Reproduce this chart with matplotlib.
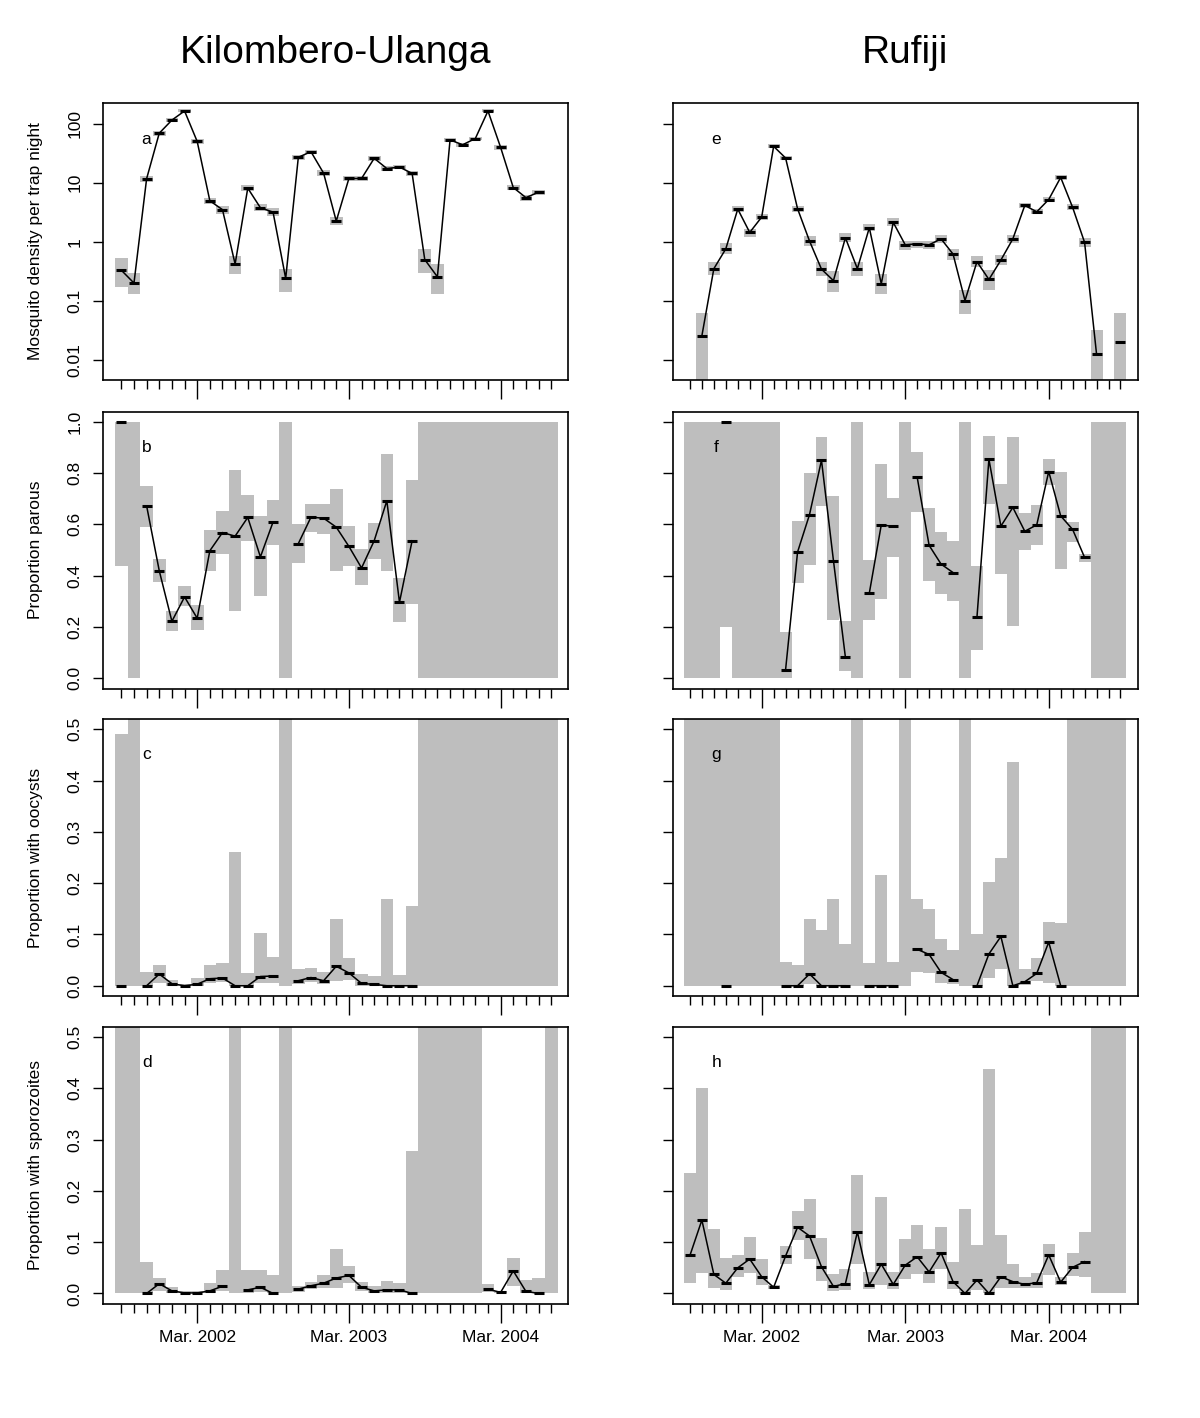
import numpy as np
import matplotlib
matplotlib.use("Agg")
import matplotlib.pyplot as plt
from matplotlib.ticker import FixedLocator, FixedFormatter, NullFormatter

plt.rcParams['font.family'] = ['Liberation Sans', 'DejaVu Sans']

nan = np.nan
GREY = '#bebebe'

# months counted from Sep 2001
ku_months = np.arange(35)   # Sep 2001 - Jul 2004
ru_months = np.arange(37)   # Sep 2001 - Sep 2004
mar_months = [6, 18, 30]
mar_labels = ['Mar. 2002', 'Mar. 2003', 'Mar. 2004']

# ---- Kilombero-Ulanga ----
# a: mosquito density per trap night
ku_dens = [0.33, 0.20, 11.7, 69, 115, 164, 50, 4.95, 3.5, 0.42, 8.1, 3.77, 3.18, 0.24, 27, 33.5, 14.5,
           2.24, 11.8, 11.8, 25.9, 17.4, 18.4, 14.4, 0.50, 0.255, 53, 44, 56, 164, 39.7, 8.3, 5.6, 6.9, nan]
ku_dens_lo = [0.17, 0.13, 10.2, 63, 107, 155, 45, 4.3, 3.0, 0.28, 7.2, 3.3, 2.7, 0.14, 24.5, 31, 12.8,
              1.9, 10.8, 10.8, 23.5, 15.8, 17, 13.2, 0.30, 0.13, 49.5, 41, 52, 155, 36.5, 7.4, 5.0, 6.2, nan]
ku_dens_hi = [0.53, 0.30, 13.2, 75, 124, 174, 55, 5.6, 4.0, 0.58, 9.0, 4.3, 3.7, 0.35, 29.5, 36, 16.3,
              2.6, 12.8, 12.8, 28.5, 19, 19.8, 15.6, 0.76, 0.42, 57, 47, 60, 174, 43, 9.3, 6.2, 7.6, nan]

# b: proportion parous
ku_par = [1.0, nan, 0.672, 0.419, 0.222, 0.317, 0.234, 0.497, 0.568, 0.554, 0.627, 0.473, 0.609, nan,
          0.525, 0.628, 0.624, 0.589, 0.514, 0.430, 0.536, 0.692, 0.296, 0.536] + [nan] * 11
ku_par_lo = [0.437, 0.0, 0.590, 0.376, 0.185, 0.281, 0.190, 0.417, 0.484, 0.264, 0.536, 0.322, 0.520, 0.0,
             0.451, 0.572, 0.564, 0.420, 0.437, 0.364, 0.464, 0.420, 0.220, 0.289] + [0.0] * 11
ku_par_hi = [1.0, 1.0, 0.748, 0.464, 0.261, 0.359, 0.287, 0.577, 0.653, 0.811, 0.715, 0.631, 0.694, 1.0,
             0.601, 0.681, 0.681, 0.737, 0.593, 0.503, 0.607, 0.876, 0.391, 0.771] + [1.0] * 11

# c: proportion with oocysts
ku_ooc = [0.0, nan, 0.0, 0.0228, 0.004, 0.0, 0.003, 0.0137, 0.015, 0.0, 0.0, 0.018, 0.019, nan,
          0.0098, 0.016, 0.0098, 0.038, 0.025, 0.0045, 0.0026, 0.0, 0.0, 0.0] + [nan] * 11
ku_ooc_lo = [0.0, 0.0, 0.0, 0.0045, 0.0, 0.0, 0.0, 0.006, 0.008, 0.0, 0.0, 0.0045, 0.006, 0.0,
             0.003, 0.007, 0.004, 0.009, 0.012, 0.0, 0.0, 0.0, 0.0, 0.0] + [0.0] * 11
ku_ooc_hi = [0.49, 1.0, 0.026, 0.040, 0.012, 0.004, 0.016, 0.040, 0.044, 0.26, 0.024, 0.103, 0.057, 1.0,
             0.033, 0.034, 0.027, 0.131, 0.055, 0.023, 0.019, 0.169, 0.020, 0.155] + [1.0] * 11

# d: proportion with sporozoites
ku_spz = [nan, nan, 0.0, 0.019, 0.005, 0.001, 0.001, 0.005, 0.014, nan, 0.007, 0.012, 0.0, nan,
          0.0084, 0.015, 0.020, 0.030, 0.035, 0.012, 0.005, 0.007, 0.007, 0.0, nan, nan, nan, nan, nan,
          0.0084, 0.002, 0.044, 0.004, 0.0, nan]
ku_spz_lo = [0.0, 0.0, 0.0, 0.004, 0.0, 0.0, 0.0, 0.0, 0.004, 0.0, 0.001, 0.002, 0.0, 0.0,
             0.003, 0.008, 0.010, 0.0097, 0.020, 0.004, 0.0, 0.001, 0.001, 0.0, 0.0, 0.0, 0.0, 0.0, 0.0,
             0.002, 0.0, 0.0136, 0.0, 0.0, 0.0]
ku_spz_hi = [1.0, 1.0, 0.061, 0.031, 0.013, 0.004, 0.005, 0.020, 0.046, 1.0, 0.046, 0.045, 0.035, 1.0,
             0.0136, 0.023, 0.036, 0.086, 0.053, 0.023, 0.015, 0.025, 0.020, 0.278, 1.0, 1.0, 1.0, 1.0, 1.0,
             0.018, 0.005, 0.069, 0.026, 0.030, 1.0]

# ---- Rufiji ----
# e: mosquito density per trap night
ru_dens = [nan, 0.0256, 0.35, 0.76, 3.58, 1.44, 2.62, 41.3, 26.2, 3.63, 1.03, 0.344, 0.22, 1.17, 0.35,
           1.73, 0.194, 2.13, 0.89, 0.925, 0.89, 1.12, 0.62, 0.101, 0.46, 0.23, 0.49, 1.12, 4.13, 3.22,
           5.2, 12.3, 3.82, 0.975, 0.0125, nan, 0.0205]
ru_dens_lo = [nan, 0.001, 0.27, 0.62, 3.2, 1.2, 2.35, 38, 24, 3.25, 0.85, 0.26, 0.14, 0.98, 0.26,
              1.5, 0.13, 1.85, 0.74, 0.8, 0.76, 0.96, 0.5, 0.06, 0.37, 0.15, 0.40, 0.96, 3.7, 2.9,
              4.7, 11.3, 3.4, 0.83, 0.001, nan, 0.001]
ru_dens_hi = [nan, 0.062, 0.45, 0.95, 4.0, 1.65, 2.95, 45, 28.5, 4.1, 1.24, 0.45, 0.32, 1.4, 0.45,
              2.0, 0.28, 2.5, 1.05, 1.05, 1.02, 1.3, 0.76, 0.15, 0.58, 0.33, 0.60, 1.3, 4.6, 3.6,
              5.8, 13.4, 4.3, 1.15, 0.032, nan, 0.062]

# f: proportion parous
ru_par = [nan, nan, nan, 1.0, nan, nan, nan, nan, 0.034, 0.492, 0.638, 0.85, 0.459, 0.082, nan,
          0.332, 0.598, 0.592, nan, 0.784, 0.518, 0.445, 0.412, nan, 0.238, 0.854, 0.593, 0.666,
          0.573, 0.598, 0.806, 0.633, 0.580, 0.471, nan, nan, nan]
ru_par_lo = [0.0, 0.0, 0.0, 0.2, 0.0, 0.0, 0.0, 0.0, 0.0, 0.372, 0.442, 0.672, 0.229, 0.027, 0.0,
             0.226, 0.309, 0.473, 0.0, 0.648, 0.381, 0.329, 0.303, 0.0, 0.112, 0.681, 0.407, 0.205,
             0.499, 0.519, 0.754, 0.427, 0.531, 0.453, 0.0, 0.0, 0.0]
ru_par_hi = [1.0, 1.0, 1.0, 1.0, 1.0, 1.0, 1.0, 1.0, 0.181, 0.612, 0.80, 0.941, 0.71, 0.222, 1.0,
             0.460, 0.834, 0.704, 1.0, 0.883, 0.662, 0.570, 0.534, 1.0, 0.437, 0.944, 0.757, 0.939,
             0.645, 0.674, 0.853, 0.805, 0.611, 0.486, 1.0, 1.0, 1.0]

# g: proportion with oocysts
ru_ooc = [nan, nan, nan, 0.0, nan, nan, nan, nan, 0.0, 0.0, 0.023, 0.0, 0.0, 0.0, nan,
          0.0, 0.0, 0.0, nan, 0.071, 0.061, 0.026, 0.012, nan, 0.0, 0.062, 0.096, 0.0,
          0.0078, 0.024, 0.085, 0.0, nan, nan, nan, nan, nan]
ru_ooc_lo = [0.0] * 8 + [0.0, 0.0, 0.003, 0.0, 0.0, 0.0, 0.0,
                         0.0, 0.0, 0.0, 0.0, 0.026, 0.024, 0.006, 0.0026, 0.0, 0.0, 0.016, 0.032, 0.0,
                         0.001, 0.010, 0.005, 0.0, 0.0, 0.0, 0.0, 0.0, 0.0]
ru_ooc_hi = [1.0] * 8 + [0.046, 0.040, 0.130, 0.109, 0.169, 0.081, 1.0,
                         0.045, 0.216, 0.046, 1.0, 0.170, 0.149, 0.092, 0.070, 1.0, 0.100, 0.202, 0.250, 0.436,
                         0.033, 0.054, 0.124, 0.122, 1.0, 1.0, 1.0, 1.0, 1.0]

# h: proportion with sporozoites
ru_spz = [0.074, 0.143, 0.037, 0.020, 0.050, 0.067, 0.0325, 0.012, 0.073, 0.129, 0.112, 0.052, 0.0137,
          0.019, 0.120, 0.017, 0.057, 0.0176, 0.055, 0.0715, 0.042, 0.079, 0.023, 0.0, 0.026, 0.0,
          0.0325, 0.023, 0.0176, 0.021, 0.075, 0.022, 0.051, 0.062, nan, nan, nan]
ru_spz_lo = [0.021, 0.039, 0.011, 0.006, 0.032, 0.040, 0.016, 0.009, 0.058, 0.105, 0.068, 0.024, 0.0046,
             0.0065, 0.058, 0.008, 0.016, 0.008, 0.029, 0.037, 0.0195, 0.048, 0.009, 0.0, 0.0065, 0.0,
             0.010, 0.010, 0.010, 0.011, 0.036, 0.016, 0.034, 0.0325, 0.0, 0.0, 0.0]
ru_spz_hi = [0.235, 0.401, 0.125, 0.070, 0.075, 0.111, 0.068, 0.016, 0.092, 0.161, 0.185, 0.109, 0.038,
             0.048, 0.230, 0.042, 0.188, 0.041, 0.106, 0.133, 0.086, 0.129, 0.061, 0.164, 0.094, 0.437,
             0.114, 0.058, 0.032, 0.040, 0.097, 0.032, 0.079, 0.120, 1.0, 1.0, 1.0]

row_labels = ['Mosquito density per trap night', 'Proportion parous',
              'Proportion with oocysts', 'Proportion with sporozoites']
letters_ku = ['a', 'b', 'c', 'd']
letters_ru = ['e', 'f', 'g', 'h']


def draw_panel(ax, months, est, lo, hi, kind, letter, xlim, show_y, show_x, letter_x):
    est = np.asarray(est, float)
    lo = np.asarray(lo, float)
    hi = np.asarray(hi, float)
    ok = np.isfinite(lo) & np.isfinite(hi)
    ax.bar(months[ok], hi[ok] - lo[ok], bottom=lo[ok], width=1.0, color=GREY,
           linewidth=0, zorder=1)
    ax.plot(months, est, '-', color='k', lw=1.1, zorder=2)
    ax.plot(months, est, linestyle='none', marker='_', ms=6.5, mew=2.2, color='k', zorder=3)

    if kind == 'log':
        ax.set_yscale('log')
        ax.set_ylim(10 ** -2.34, 10 ** 2.35)
        yt = [0.01, 0.1, 1, 10, 100]
        ytl = ['0.01', '0.1', '1', '10', '100']
        ly = 54
    elif kind == 'par':
        ax.set_ylim(-0.04, 1.04)
        yt = [0.0, 0.2, 0.4, 0.6, 0.8, 1.0]
        ytl = ['0.0', '0.2', '0.4', '0.6', '0.8', '1.0']
        ly = 0.9
    else:
        ax.set_ylim(-0.02, 0.52)
        yt = [0.0, 0.1, 0.2, 0.3, 0.4, 0.5]
        ytl = ['0.0', '0.1', '0.2', '0.3', '0.4', '0.5']
        ly = 0.45
    ax.yaxis.set_major_locator(FixedLocator(yt))
    ax.yaxis.set_minor_locator(FixedLocator([]))
    if show_y:
        ax.yaxis.set_major_formatter(FixedFormatter(ytl))
    else:
        ax.yaxis.set_major_formatter(NullFormatter())
    ax.yaxis.set_minor_formatter(NullFormatter())

    ax.set_xlim(*xlim)
    ax.xaxis.set_major_locator(FixedLocator(mar_months))
    ax.xaxis.set_minor_locator(FixedLocator(list(months)))
    if show_x:
        ax.xaxis.set_major_formatter(FixedFormatter(mar_labels))
    else:
        ax.xaxis.set_major_formatter(NullFormatter())

    ax.tick_params(axis='x', which='major', length=14, width=1.0, labelsize=12.5, pad=5)
    ax.tick_params(axis='x', which='minor', length=6.5, width=1.0)
    ax.tick_params(axis='y', which='major', length=7.5, width=1.0, labelsize=12.5, pad=7,
                   labelrotation=90)
    for lab in ax.get_yticklabels():
        lab.set_va('center')
    for sp in ax.spines.values():
        sp.set_linewidth(1.2)

    ax.text(letter_x, ly, letter, ha='center', va='center', fontsize=12.5)


fig = plt.figure(figsize=(12, 14.18), dpi=100)
W, H = 1200.0, 1418.0
tops = [103, 411.5, 719, 1026.7]
ph = 277.0
pw = 465.0
xl, xr = 103.0, 672.7

ku_est = [ku_dens, ku_par, ku_ooc, ku_spz]
ku_lo = [ku_dens_lo, ku_par_lo, ku_ooc_lo, ku_spz_lo]
ku_hi = [ku_dens_hi, ku_par_hi, ku_ooc_hi, ku_spz_hi]
ru_est = [ru_dens, ru_par, ru_ooc, ru_spz]
ru_lo = [ru_dens_lo, ru_par_lo, ru_ooc_lo, ru_spz_lo]
ru_hi = [ru_dens_hi, ru_par_hi, ru_ooc_hi, ru_spz_hi]
kinds = ['log', 'par', 'prop', 'prop']

for i in range(4):
    bottom = 1 - (tops[i] + ph) / H
    axl = fig.add_axes([xl / W, bottom, pw / W, ph / H])
    draw_panel(axl, ku_months, ku_est[i], ku_lo[i], ku_hi[i], kinds[i], letters_ku[i],
               (-1.45, 35.33), True, i == 3, 2.0)
    axl.set_ylabel(row_labels[i], fontsize=12.5)
    axl.yaxis.set_label_coords(-0.13, 0.5)

    axr = fig.add_axes([xr / W, bottom, pw / W, ph / H])
    draw_panel(axr, ru_months, ru_est[i], ru_lo[i], ru_hi[i], kinds[i], letters_ru[i],
               (-1.44, 37.44), False, i == 3, 2.2)

fig.text((xl + pw / 2) / W, 1 - 63 / H, 'Kilombero-Ulanga', ha='center', va='baseline',
         fontsize=28)
fig.text((xr + pw / 2) / W, 1 - 63 / H, 'Rufiji', ha='center', va='baseline',
         fontsize=28)

fig.savefig('out.png', dpi=100, facecolor='white')
